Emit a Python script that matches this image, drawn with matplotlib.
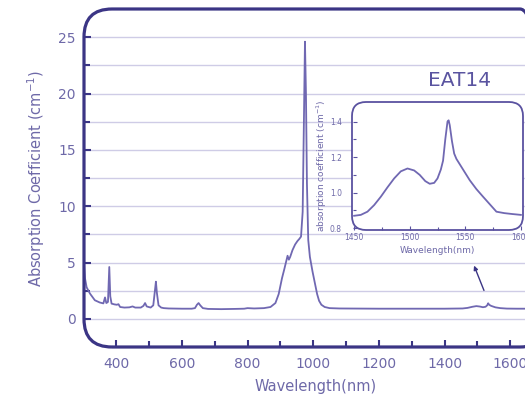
import matplotlib
matplotlib.use("Agg")
import matplotlib.pyplot as plt
from matplotlib.patches import FancyBboxPatch, FancyArrowPatch
from matplotlib.transforms import IdentityTransform
from matplotlib.ticker import MultipleLocator, FixedLocator

# ---- data ----
wavelength = [302, 305, 310, 320, 335, 350, 361, 366, 370, 375, 379, 382, 386, 395, 402,
              407, 412, 425, 440, 450, 458, 475, 483, 488, 493, 505, 513, 518, 521, 524,
              529, 537, 545, 560, 600, 630, 640, 646, 651, 656, 664, 680, 720, 760, 790,
              800, 820, 850, 870, 885, 895, 905, 912, 917, 922, 926, 930, 937, 945, 952,
              958, 963, 968, 972, 975, 978, 981, 985, 990, 998, 1005, 1012, 1018, 1025,
              1035, 1050, 1080, 1200, 1300, 1400, 1455, 1470, 1485, 1497, 1508, 1517,
              1525, 1530, 1533, 1536, 1542, 1555, 1570, 1590, 1620, 1700]
absorption = [4.8, 3.6, 2.8, 2.25, 1.65, 1.45, 1.37, 1.9, 1.4, 1.5, 4.6, 2.0, 1.35, 1.28, 1.25,
              1.3, 1.05, 1.0, 1.02, 1.1, 1.0, 1.0, 1.15, 1.4, 1.1, 1.0, 1.2, 2.5, 3.3, 2.3,
              1.2, 1.0, 0.95, 0.92, 0.9, 0.9, 0.95, 1.25, 1.4, 1.2, 0.95, 0.88, 0.86, 0.88, 0.9,
              0.95, 0.92, 0.95, 1.05, 1.4, 2.2, 3.6, 4.4, 5.0, 5.6, 5.25, 5.5, 6.1, 6.6, 6.9,
              7.1, 7.3, 9.5, 18.0, 24.6, 20.0, 12.0, 7.0, 5.5, 4.2, 3.2, 2.2, 1.6, 1.25,
              1.05, 0.95, 0.92, 0.9, 0.9, 0.9, 0.92, 0.97, 1.07, 1.13, 1.09, 1.03,
              1.07, 1.2, 1.38, 1.25, 1.15, 1.02, 0.95, 0.91, 0.9, 0.9]

inset_wavelength = [1450, 1456, 1462, 1468, 1474, 1480, 1486, 1492, 1498, 1504, 1509, 1514,
                    1518, 1522, 1525, 1528, 1530, 1532, 1534, 1535, 1536, 1538, 1540, 1542,
                    1548, 1554, 1560, 1566, 1572, 1578, 1585, 1592, 1600]
inset_absorption = [0.870, 0.875, 0.893, 0.93, 0.977, 1.03, 1.08, 1.12, 1.136, 1.125, 1.10,
                    1.065, 1.05, 1.055, 1.08, 1.13, 1.18, 1.30, 1.40, 1.407, 1.38, 1.29, 1.22,
                    1.19, 1.13, 1.07, 1.02, 0.977, 0.935, 0.893, 0.885, 0.88, 0.875]

x_ticks = [400, 600, 800, 1000, 1200, 1400, 1600]
x_minor = [500, 700, 900, 1100, 1300, 1500]
y_ticks = [0, 5, 10, 15, 20, 25]
y_minor = [2.5, 7.5, 12.5, 17.5, 22.5]
inset_x_ticks = [1450, 1500, 1550, 1600]
inset_y_ticks = [0.8, 1.0, 1.2, 1.4]

# ---- style ----
W, H = 525, 399
LINE = "#7068b2"
FRAME = "#3b3585"
TEXT = "#6e69a8"
GRID = "#cfcce6"

plt.rcParams['font.family'] = ['DejaVu Sans']
fig = plt.figure(figsize=(W / 100, H / 100), dpi=100)

def px_axes(x0, y0_top, x1, y1_bottom):
    return [x0 / W, (H - y1_bottom) / H, (x1 - x0) / W, (y1_bottom - y0_top) / H]

# main axes (right part extends past the picture edge)
AX_L, AX_R = 84, 548
ax = fig.add_axes(px_axes(AX_L, 9, AX_R, 347))
ax.plot(wavelength, absorption, color=LINE, lw=1.3)
ax.set_xlim(302, 302 + (AX_R - AX_L) / 0.32833)
ax.set_ylim(-2.5, 27.5)
for s in ax.spines.values():
    s.set_visible(False)
ax.set_xticks(x_ticks)
ax.set_yticks(y_ticks)
ax.xaxis.set_minor_locator(FixedLocator(x_minor))
ax.yaxis.set_minor_locator(FixedLocator(y_minor))
ax.tick_params(which='both', direction='in', color=FRAME, width=1.5,
               labelcolor=TEXT, labelsize=10)
ax.tick_params(which='major', length=5)
ax.tick_params(which='minor', length=4)
ax.tick_params(axis='x', pad=7)
ax.tick_params(axis='y', pad=6)
ax.grid(True, which='both', axis='y', color=GRID, lw=1.0)
ax.set_axisbelow(True)
ax.set_xlabel("Wavelength(nm)", color=TEXT, fontsize=10.5, labelpad=6)
ax.set_ylabel("Absorption Coefficient (cm$^{-1}$)", color=TEXT, fontsize=10.5, labelpad=8)

frame = FancyBboxPatch((AX_L, H - 347), AX_R - AX_L, 338,
                       boxstyle="round,pad=0,rounding_size=28",
                       transform=IdentityTransform(), fc='none', ec=FRAME, lw=2.3,
                       clip_on=False, zorder=5)
fig.patches.append(frame)

fig.text(460 / W, 1 - 80 / H, "EAT14", color="#5a54a0", fontsize=14.5,
         ha='center', va='center')

# inset
inset_box = FancyBboxPatch((352, H - 230), 171, 128,
                           boxstyle="round,pad=0,rounding_size=14",
                           transform=IdentityTransform(), fc='white', ec="#5a52a0", lw=1.3,
                           clip_on=False, zorder=6)
fig.patches.append(inset_box)

iax = fig.add_axes(px_axes(353, 102, 522, 230))
iax.set_zorder(7)
iax.patch.set_visible(False)
iax.plot(inset_wavelength, inset_absorption, color=LINE, lw=1.3)
iax.set_xlim(1449, 1601)
iax.set_ylim(0.79, 1.51)
for s in iax.spines.values():
    s.set_visible(False)
iax.set_xticks(inset_x_ticks)
iax.set_yticks(inset_y_ticks)
iax.xaxis.set_minor_locator(FixedLocator([1475, 1525, 1575]))
iax.yaxis.set_minor_locator(FixedLocator([0.9, 1.1, 1.3]))
iax.tick_params(which='both', direction='in', color="#5a52a0", width=0.8,
                labelcolor=TEXT, labelsize=5.5, pad=2)
iax.tick_params(which='major', length=3)
iax.tick_params(which='minor', length=2)
iax.tick_params(axis='y', pad=8)
iax.set_xlabel("Wavelength(nm)", color=TEXT, fontsize=6.5, labelpad=3)
iax.set_ylabel("absorption coefficient (cm$^{-1}$)", color=TEXT, fontsize=6.5)
iax.yaxis.set_label_coords(-0.14, 0.5)

fig.patches.append(FancyArrowPatch(
    (485, H - 293), (473, H - 263), transform=IdentityTransform(),
    arrowstyle='-|>', mutation_scale=6, color=FRAME, lw=1.0, zorder=8))

fig.savefig("out.png", dpi=100)
